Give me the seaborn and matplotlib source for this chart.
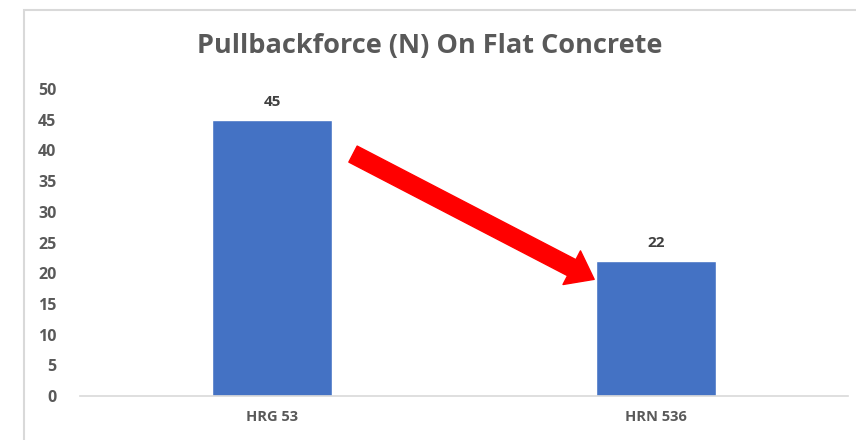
import matplotlib
matplotlib.use("Agg")
import matplotlib.pyplot as plt
import seaborn as sns
import pandas as pd
from matplotlib.patches import Rectangle

categories = ["HRG 53", "HRN 536"]
values = [45, 22]
yticks = [0, 5, 10, 15, 20, 25, 30, 35, 40, 45, 50]
title = "Pullbackforce (N) On Flat Concrete"

sns.set_theme(style="white")
plt.rcParams['font.family'] = ['Open Sans', 'DejaVu Sans']

df = pd.DataFrame({"cat": categories, "val": values})

fig = plt.figure(figsize=(8.56, 4.40), dpi=100)
ax = fig.add_axes([80/856, 1-396/440, 768/856, (396-89)/440])

sns.barplot(data=df, x="cat", y="val", ax=ax, color="#4472C4", width=0.3125, saturation=1)

ax.set_xlim(-0.5, 1.5)
ax.set_ylim(0, 50)
ax.set_yticks(yticks)
ax.set_yticklabels([str(t) for t in yticks], fontsize=11.5, fontweight="bold", color="#595959")
ax.set_xticks(range(len(categories)))
ax.set_xticklabels(categories, fontsize=10.5, fontweight="bold", color="#595959")
ax.tick_params(axis="both", length=0)
ax.tick_params(axis="y", pad=17)
ax.tick_params(axis="x", pad=10)
ax.set_xlabel("")
ax.set_ylabel("")
for s in ["top", "right", "left"]:
    ax.spines[s].set_visible(False)
ax.spines["bottom"].set_color("#d9d9d9")
ax.spines["bottom"].set_linewidth(1.2)

for i, v in enumerate(values):
    ax.text(i, v + 1.8, str(v), ha="center", va="bottom", fontsize=11,
            fontweight="bold", color="#404040")

# red arrow annotation
ax.annotate("", xy=(0.839, 19.0), xytext=(0.211, 39.4),
            arrowprops=dict(arrowstyle="simple,head_width=2.1,head_length=1.4,tail_width=1.0",
                            color="#FF0000", mutation_scale=13, shrinkA=0, shrinkB=0))

fig.text(430/856, 1-46/440, title, ha="center", va="center", fontsize=19.5,
         fontweight="bold", color="#595959")

# chart border
fig.patches.append(Rectangle((24/856, -0.1), 1.0, 1-10/440+0.1, transform=fig.transFigure,
                             fill=False, edgecolor="#d9d9d9", linewidth=1.5, zorder=0))

fig.savefig("out.png", dpi=100)
